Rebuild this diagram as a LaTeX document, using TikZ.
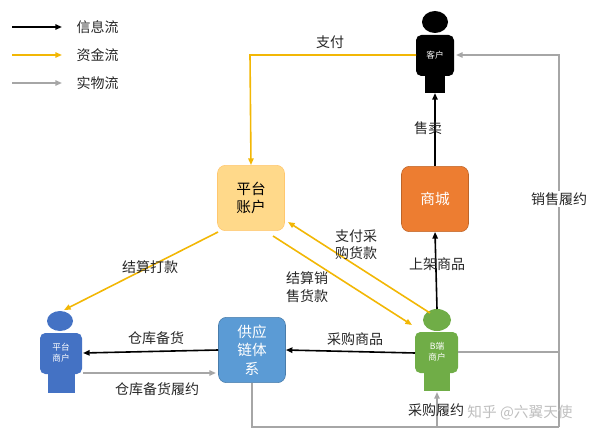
\documentclass[tikz,border=0pt]{standalone}
\usepackage{fontspec}
\setmainfont{Noto Sans CJK SC}
\usetikzlibrary{arrows.meta}
\definecolor{yel}{HTML}{F2B705}
\definecolor{gry}{HTML}{A6A6A6}
\definecolor{pacc}{HTML}{FFD98A}
\definecolor{mall}{HTML}{ED7D31}
\definecolor{sup}{HTML}{5B9BD5}
\definecolor{bm}{HTML}{70AD47}
\definecolor{pm}{HTML}{4472C4}
\begin{document}
\begin{tikzpicture}[x=0.75pt,y=-0.75pt,
  info/.style={draw=black,line width=1.2pt,-{Triangle[length=5pt,width=4pt]}},
  money/.style={draw=yel,line width=1.2pt,-{Triangle[length=5pt,width=4pt]}},
  goods/.style={draw=gry,line width=1.2pt,-{Triangle[length=5pt,width=4pt]}},
  lbl/.style={font=\fontsize{10.5pt}{13pt}\selectfont,text=black!85,align=center},
  box/.style={rounded corners=6pt,minimum width=50.25pt,minimum height=49pt,align=center,font=\fontsize{11pt}{14pt}\selectfont},
  ptxt/.style={font=\fontsize{6.5pt}{8pt}\selectfont,text=white,align=center}]
\useasboundingbox (0,0) rectangle (600,442);
% legend
\draw[info] (12,27) -- (62,27); \node[lbl,anchor=west] (l1) at (72,27) {信息流};
\draw[money] (12,55) -- (62,55); \node[lbl,anchor=west] (l2) at (72,55) {资金流};
\draw[goods] (12,83) -- (62,83); \node[lbl,anchor=west] (l3) at (72,83) {实物流};
% customer
\fill[black] (435,22) ellipse (13 and 11);
\fill[black,rounded corners=4pt] (416,35) rectangle (454,76);
\fill[black] (425,75) rectangle (445,93);
\node[ptxt] (cust) at (435,55) {客户};
\coordinate (custb) at (435,93);
% platform merchant
\fill[pm] (60,321) ellipse (13 and 10);
\fill[pm,rounded corners=4pt] (40,333) rectangle (82,374);
\fill[pm] (48,373) rectangle (75,393);
\node[ptxt] (pmer) at (61,353) {平台\\商户};
% B merchant
\fill[bm] (437,320) ellipse (14 and 11);
\fill[bm,rounded corners=4pt] (415,332) rectangle (458,373);
\fill[bm] (424,372) rectangle (450,391);
\node[ptxt] (bmer) at (437,352) {B端\\商户};
% boxes
\node[box,fill=pacc,draw=pacc!80!orange,text=black] (acc) at (251,198) {平台\\账户};
\node[box,fill=mall,draw=mall!80!black,text=white] (mal) at (435,199) {商城};
\node[box,fill=sup,draw=sup!80!black,text=white] (sc) at (252,350) {供应\\链体\\系};
\coordinate (c1) at (250,55);
\coordinate (c2) at (559,55);
\coordinate (c3) at (559,352);
\coordinate (c4) at (252,427);
\coordinate (c5) at (437,427);
\coordinate (c6) at (559,427);
% flows
\draw[money] (416,55) -- (c1) -- (acc.north);
\node[lbl] (t1) at (330,42) {支付};
\draw[goods] (c6) -- (c2) -- (456,55);
\draw[goods,-] (458,352) -- (c3);
\node[lbl,fill=white,inner sep=1pt] (t2) at (559,199) {销售履约};
\draw[info] (mal.north) -- (custb);
\node[lbl] (t3) at (428,128) {售卖};
\draw[info] (437,309) -- (mal.south);
\node[lbl] (t4) at (437,264) {上架商品};
\draw[money] (218,232) -- (64,310);
\node[lbl] (t5) at (150,267) {结算打款};
\draw[money] (430,313) -- (288,222);
\node[lbl] (t6) at (356,245) {支付采\\购货款};
\draw[money] (273,236) -- (412,325);
\node[lbl] (t7) at (307,287) {结算销\\售货款};
\draw[info] (415,353) -- (sc.east);
\node[lbl] (t8) at (355,339) {采购商品};
\draw[info] (sc.west) -- (83,353);
\node[lbl] (t9) at (156,338) {仓库备货};
\draw[goods] (83,373) -- (216,373);
\node[lbl] (t10) at (157,389) {仓库备货履约};
\draw[goods,-] (sc.south) -- (c4) -- (c6);
\draw[goods] (c5) -- (437,392);
\node[lbl] (t11) at (436,410) {采购履约};
\node[font=\fontsize{11pt}{13pt}\selectfont,text=black!25] (wm) at (520,413) {知乎 @六翼天使};
\end{tikzpicture}
\end{document}
